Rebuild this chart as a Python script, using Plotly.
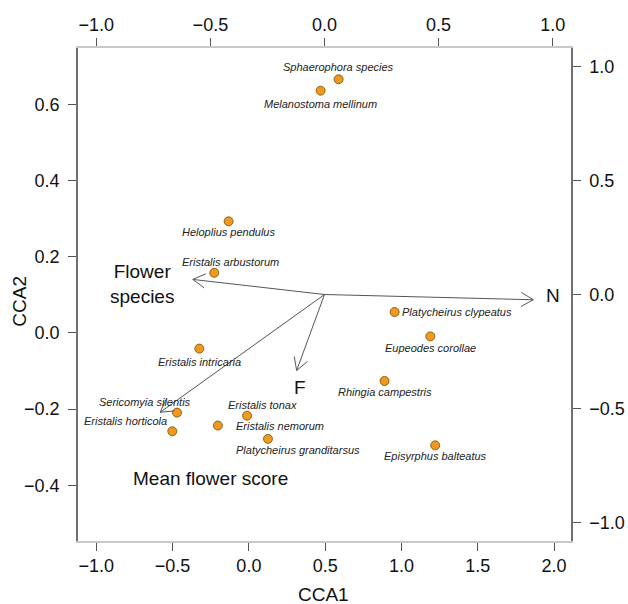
import math
import plotly.graph_objects as go

# ---- data -------------------------------------------------------------
species = [
    "Sphaerophora species", "Melanostoma mellinum", "Heloplius pendulus",
    "Eristalis arbustorum", "Eristalis intricaria", "Platycheirus clypeatus",
    "Eupeodes corollae", "Rhingia campestris", "Episyrphus balteatus",
    "Sericomyia silentis", "Eristalis horticola", "Eristalis nemorum",
    "Eristalis tonax", "Platycheirus granditarsus",
]
cca1 = [0.588, 0.470, -0.133, -0.227, -0.325, 0.955, 1.189, 0.889, 1.221,
        -0.471, -0.502, -0.203, -0.012, 0.125]
cca2 = [0.666, 0.636, 0.293, 0.158, -0.041, 0.055, -0.009, -0.126, -0.295,
        -0.209, -0.258, -0.243, -0.217, -0.278]

env_names = ["N", "Flower<br>species", "F", "Mean flower score"]
env_x = [0.915, -0.577, -0.122, -0.720]
env_y = [-0.023, 0.066, -0.333, -0.516]
env_label_x = [0.999, -0.80, -0.108, -0.501]
env_label_y = [-0.004, 0.047, -0.406, -0.807]

x_ticks = [-1.0, -0.5, 0.0, 0.5, 1.0, 1.5, 2.0]
y_ticks = [-0.4, -0.2, 0.0, 0.2, 0.4, 0.6]
sec_ticks = [-1.0, -0.5, 0.0, 0.5, 1.0]

# ---- label placement (pixel offsets, style only) ----------------------
label_place = {
    "Sphaerophora species": (0, 12, "center"),
    "Melanostoma mellinum": (0, -13, "center"),
    "Heloplius pendulus": (0, -11, "center"),
    "Eristalis arbustorum": (16, 11, "center"),
    "Eristalis intricaria": (0, -13, "center"),
    "Platycheirus clypeatus": (5, 0, "left"),
    "Eupeodes corollae": (0, -12, "center"),
    "Rhingia campestris": (0, -11, "center"),
    "Episyrphus balteatus": (0, -11, "center"),
    "Sericomyia silentis": (16, 11, "right"),
    "Eristalis horticola": (-3, 10, "right"),
    "Eristalis nemorum": (16, 0, "left"),
    "Eristalis tonax": (15, 11, "center"),
    "Platycheirus granditarsus": (30, -11, "center"),
}

FONT = "Liberation Sans, Arial, Helvetica, sans-serif"

fig = go.Figure()

# arrows (shaft + open head) on the secondary (biplot) axes
head_len = 0.062
head_ang = math.radians(30)
ax_x, ax_y = [], []
for tx, ty in zip(env_x, env_y):
    th = math.atan2(ty, tx)
    ax_x += [0, tx, None]
    ax_y += [0, ty, None]
    for s in (1, -1):
        ax_x += [tx - head_len * math.cos(th + s * head_ang), tx, None]
        ax_y += [ty - head_len * math.sin(th + s * head_ang), ty, None]
fig.add_trace(go.Scatter(
    x=ax_x, y=ax_y, xaxis="x2", yaxis="y2", mode="lines",
    line=dict(color="#555555", width=1), hoverinfo="skip", showlegend=False,
))

# species points
fig.add_trace(go.Scatter(
    x=cca1, y=cca2, mode="markers", text=species,
    marker=dict(size=9, color="#EE9A1E", line=dict(color="#7a4a00", width=0.8)),
    showlegend=False,
))

annotations = []
for name, xv, yv in zip(species, cca1, cca2):
    dx, dy, anchor = label_place[name]
    annotations.append(dict(
        x=xv, y=yv, xref="x", yref="y", text="<i>" + name + "</i>",
        showarrow=False, xshift=dx, yshift=dy, xanchor=anchor, yanchor="middle",
        font=dict(family=FONT, size=11, color="#222222"),
    ))
for name, lx, ly in zip(env_names, env_label_x, env_label_y):
    annotations.append(dict(
        x=lx, y=ly, xref="x2", yref="y2", text=name, showarrow=False,
        xanchor="center", yanchor="middle",
        font=dict(family=FONT, size=19, color="#111111"),
    ))
# axis titles
annotations.append(dict(
    x=0.4986, y=-0.1095, xref="paper", yref="paper", text="CCA1",
    showarrow=False, xanchor="center", yanchor="middle",
    font=dict(family=FONT, size=19, color="#111111"),
))
annotations.append(dict(
    x=-0.1176, y=0.4854, xref="paper", yref="paper", text="CCA2",
    showarrow=False, xanchor="center", yanchor="middle", textangle=-90,
    font=dict(family=FONT, size=19, color="#111111"),
))

axis_common = dict(
    showgrid=False, zeroline=False, ticks="outside", ticklen=8,
    tickcolor="#555555", tickwidth=1, mirror=False, showline=True,
    tickfont=dict(family=FONT, size=18, color="#111111"),
    tickformat=".1f",
)

fig.update_layout(
    width=628, height=604,
    margin=dict(l=78, r=57, t=48, b=63, autoexpand=False),
    paper_bgcolor="white", plot_bgcolor="white",
    font=dict(family=FONT, size=18, color="#111111"),
    xaxis=dict(axis_common, range=[-1.12, 2.111], tickvals=x_ticks,
               linecolor="#c8c8c8", linewidth=1.5),
    yaxis=dict(axis_common, range=[-0.546, 0.748], tickvals=y_ticks,
               linecolor="#707070", linewidth=1.5, ticklabelstandoff=5),
    xaxis2=dict(axis_common, range=[-1.08, 1.08], tickvals=sec_ticks,
                overlaying="x", side="top", linecolor="#c8c8c8", linewidth=1.5),
    yaxis2=dict(axis_common, range=[-1.08, 1.08], tickvals=sec_ticks,
                overlaying="y", side="right", linecolor="#707070", linewidth=1.5,
                ticklabelstandoff=5),
    annotations=annotations,
)

fig.write_html("out.html", config={"displayModeBar": False})

# remove the browser's default page margin so the figure sits at (0, 0)
with open("out.html", encoding="utf-8") as fh:
    html = fh.read()
html = html.replace("<head>", "<head><style>html,body{margin:0;padding:0;}</style>", 1)
with open("out.html", "w", encoding="utf-8") as fh:
    fh.write(html)
